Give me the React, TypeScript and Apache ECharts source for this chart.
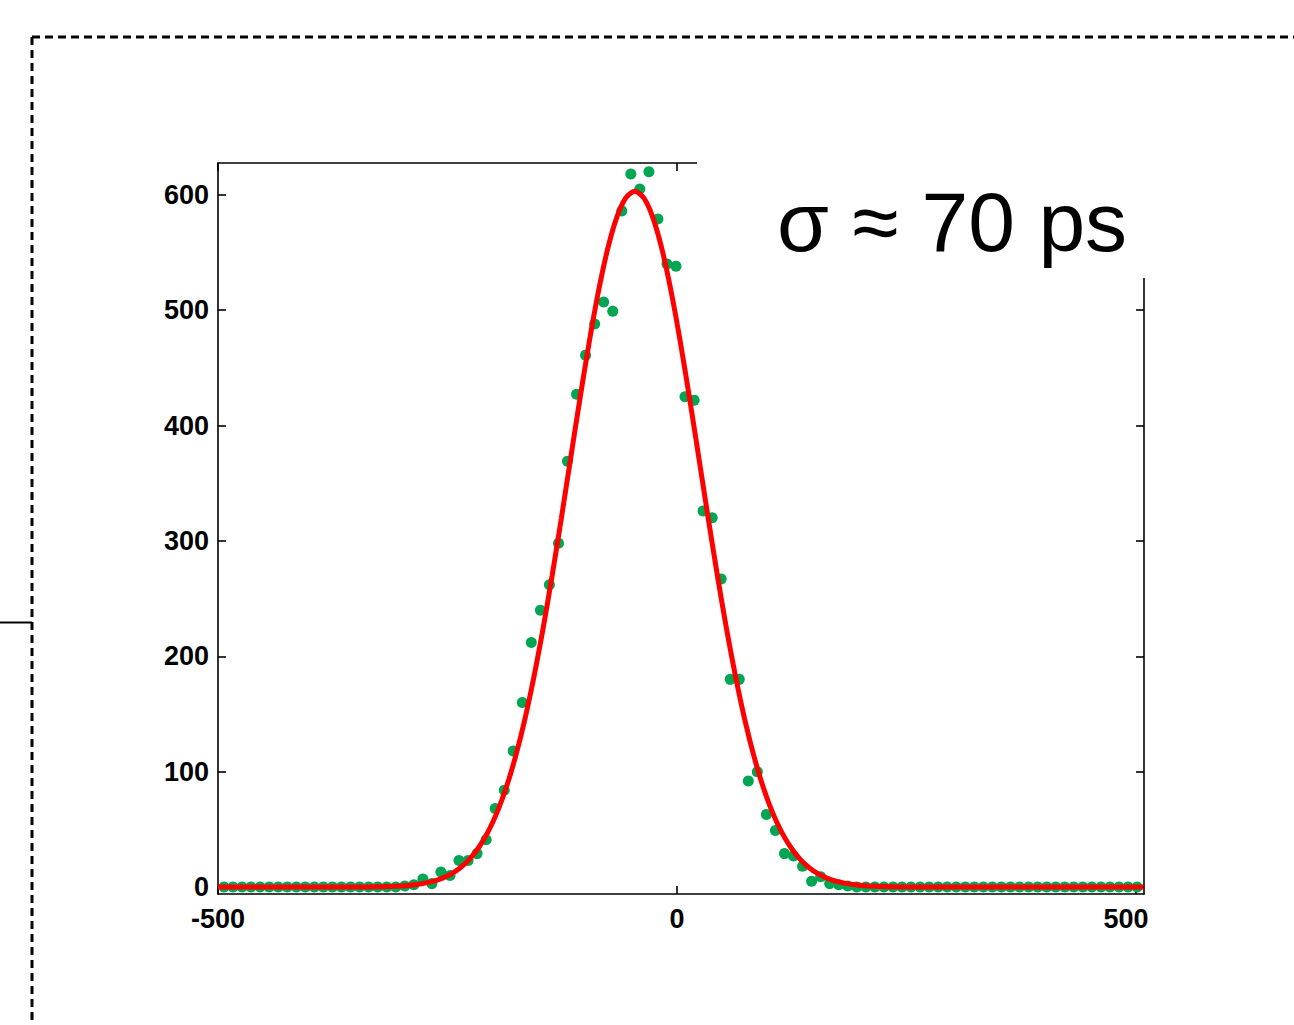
import { useEffect, useRef } from 'react';
import * as echarts from 'echarts';

// Histogram bin centres (ps) and counts
const binCenters = [
  -493.5, -483.7, -473.8, -464.0, -454.1, -444.3, -434.4, -424.6, -414.7, -404.9,
  -395.0, -385.2, -375.3, -365.5, -355.6, -345.8, -335.9, -326.1, -316.2, -306.4,
  -296.5, -286.7, -276.8, -267.0, -257.2, -247.3, -237.5, -227.6, -217.8, -207.9,
  -198.1, -188.2, -178.4, -168.5, -158.7, -148.8, -139.0, -129.1, -119.3, -109.4,
  -99.6, -89.7, -79.9, -70.0, -60.2, -50.3, -40.5, -30.6, -20.8, -10.9,
  -1.1, 8.7, 18.6, 28.4, 38.3, 48.1, 58.0, 67.8, 77.7, 87.5,
  97.4, 107.2, 117.1, 126.9, 136.8, 146.6, 156.5, 166.3, 176.2, 186.0,
  195.9, 205.7, 215.6, 225.4, 235.3, 245.1, 254.9, 264.8, 274.6, 284.5,
  294.3, 304.2, 314.0, 323.9, 333.7, 343.6, 353.4, 363.3, 373.1, 383.0,
  392.8, 402.7, 412.5, 422.4, 432.2, 442.1, 451.9, 461.8, 471.6, 481.5,
  491.3, 501.2,
];
const counts = [
  0, 0, 0, 0, 0, 0, 0, 0, 0, 0,
  0, 0, 0, 0, 0, 0, 0, 0, 0, 0,
  1, 2, 7, 3, 13, 10, 23, 23, 29, 41,
  68, 84, 118, 160, 212, 240, 262, 298, 369, 427,
  461, 488, 507, 499, 586, 618, 605, 620, 579, 540,
  538, 425, 422, 326, 320, 267, 180, 180, 92, 100,
  63, 49, 29, 27, 18, 5, 9, 3, 2, 1,
  0, 0, 0, 0, 0, 0, 0, 0, 0, 0,
  0, 0, 0, 0, 0, 0, 0, 0, 0, 0,
  0, 0, 0, 0, 0, 0, 0, 0, 0, 0,
  0, 0,
];

// Fitted curve
const fitX = [
  -500,
  -336, -326, -316, -306, -296, -286, -276, -266, -256, -246,
  -236, -226, -216, -206, -196, -186, -176, -166, -156, -146,
  -136, -126, -116, -106, -96, -86, -76, -66, -56, -46,
  -36, -26, -16, -6, 4, 14, 24, 34, 44, 54,
  64, 74, 84, 94, 104, 114, 124, 134, 144, 154,
  164, 174, 184, 194, 204, 214, 224, 234, 244,
  508,
];
const fitY = [
  0,
  0.1, 0.3, 0.4, 0.7, 1.2, 2.0, 3.2, 5.0, 7.6, 11.4,
  16.8, 24.2, 34.3, 47.6, 64.7, 86.3, 112.8, 144.5, 181.6, 223.6,
  270.0, 319.6, 370.9, 421.9, 470.6, 514.5, 551.5, 579.5, 597.0, 603,
  597.0, 579.5, 551.5, 514.5, 470.6, 421.9, 370.9, 319.6, 270.0, 223.6,
  181.6, 144.5, 112.8, 86.3, 64.7, 47.6, 34.3, 24.2, 16.8, 11.4,
  7.6, 5.0, 3.2, 2.0, 1.2, 0.7, 0.4, 0.3, 0.1,
  0,
];

const xTickStep = 500;
const yTickValues = [0, 100, 200, 300, 400, 500, 600];
const annotation = 'σ ≈ 70 ps';

const FONT = 'Liberation Sans, Arial, Helvetica, sans-serif';

export default function App() {
  const ref = useRef<HTMLDivElement>(null);

  useEffect(() => {
    if (!ref.current) return;
    const chart = echarts.init(ref.current, null, { renderer: 'svg' });

    const axisLineStyle = { color: '#000', width: 1.6 };
    const labelStyle = {
      color: '#000',
      fontSize: 27,
      fontWeight: 'bold' as const,
      fontFamily: FONT,
    };

    chart.setOption({
      animation: false,
      backgroundColor: '#fff',
      grid: { left: 218, right: 150, top: 163, bottom: 131, containLabel: false },
      xAxis: [
        {
          type: 'value',
          position: 'bottom',
          min: -500,
          max: 508.7,
          interval: xTickStep,
          axisLine: { show: true, onZero: false, lineStyle: axisLineStyle },
          axisTick: { show: true, inside: true, length: 8, lineStyle: axisLineStyle },
          axisLabel: {
            ...labelStyle,
            margin: 11,
            showMaxLabel: false,
            formatter: (v: number) => (v === 500 ? '{r|500}' : String(v)),
            rich: { r: { ...labelStyle, padding: [0, 20, 0, 0] } },
          },
          splitLine: { show: false },
        },
        {
          type: 'value',
          position: 'top',
          min: -500,
          max: 508.7,
          interval: xTickStep,
          axisLine: { show: true, onZero: false, lineStyle: axisLineStyle },
          axisTick: { show: true, inside: true, length: 8, lineStyle: axisLineStyle },
          axisLabel: { show: false },
          splitLine: { show: false },
        },
      ],
      yAxis: [
        {
          type: 'value',
          position: 'left',
          min: -6,
          max: 627.5,
          axisLine: { show: true, onZero: false, lineStyle: axisLineStyle },
          axisTick: {
            show: true,
            inside: true,
            length: 8,
            lineStyle: axisLineStyle,
            customValues: yTickValues,
          },
          axisLabel: { ...labelStyle, margin: 9, customValues: yTickValues },
          splitLine: { show: false },
        },
        {
          type: 'value',
          position: 'right',
          min: -6,
          max: 627.5,
          axisLine: { show: true, onZero: false, lineStyle: axisLineStyle },
          axisTick: {
            show: true,
            inside: true,
            length: 8,
            lineStyle: axisLineStyle,
            customValues: yTickValues,
          },
          axisLabel: { show: false, customValues: yTickValues },
          splitLine: { show: false },
        },
      ],
      series: [
        {
          type: 'scatter',
          xAxisIndex: 0,
          yAxisIndex: 0,
          symbol: 'circle',
          symbolSize: 11,
          itemStyle: { color: '#00a651', opacity: 1 },
          data: binCenters.map((x, i) => [x, counts[i]]),
          z: 2,
        },
        {
          type: 'line',
          xAxisIndex: 0,
          yAxisIndex: 0,
          showSymbol: false,
          smooth: 0.3,
          lineStyle: { color: '#ff0000', width: 5 },
          data: fitX.map((x, i) => [x, fitY[i]]),
          z: 3,
        },
      ],
      graphic: [
        {
          type: 'rect',
          shape: { x: 697, y: 150, width: 460, height: 128 },
          style: { fill: '#fff' },
          z: 100,
        },
        {
          type: 'text',
          x: 777,
          y: 222,
          style: {
            text: annotation,
            fill: '#000',
            fontSize: 84,
            fontFamily: FONT,
            verticalAlign: 'middle',
            align: 'left',
          },
          z: 101,
        },
        {
          type: 'line',
          shape: { x1: 32, y1: 37, x2: 1294, y2: 37 },
          style: { stroke: '#000', lineWidth: 3, lineDash: [8, 5] },
          z: 100,
        },
        {
          type: 'line',
          shape: { x1: 32, y1: 37, x2: 32, y2: 1025 },
          style: { stroke: '#000', lineWidth: 3, lineDash: [8, 5] },
          z: 100,
        },
        {
          type: 'line',
          shape: { x1: 0, y1: 622.5, x2: 32, y2: 622.5 },
          style: { stroke: '#000', lineWidth: 2 },
          z: 100,
        },
      ],
    });

    return () => chart.dispose();
  }, []);

  return (
    <div
      ref={ref}
      style={{ position: 'absolute', left: 0, top: 0, width: 1294, height: 1025, background: '#fff' }}
    />
  );
}
